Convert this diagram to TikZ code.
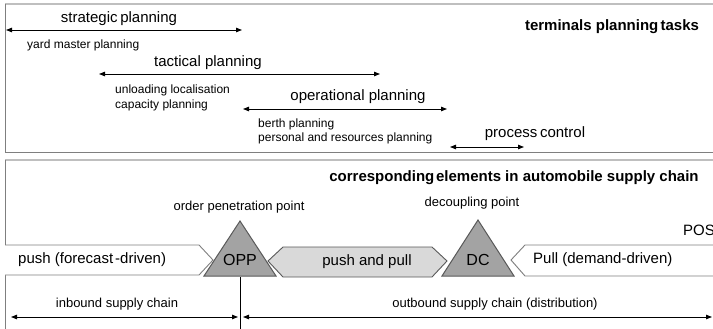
\documentclass[tikz,border=0pt]{standalone}
\usepackage{fontspec}
\setmainfont{Liberation Sans}
\usetikzlibrary{arrows.meta}
\definecolor{frameLight}{HTML}{BFBFBF}
\definecolor{frameDark}{HTML}{7F7F7F}
\definecolor{edgeDark}{HTML}{595959}
\definecolor{triFill}{HTML}{A3A3A3}
\definecolor{ppFill}{HTML}{D9D9D9}
\tikzset{
  txt/.style={inner sep=0pt, font=\fontsize{#1}{#1}\selectfont},
  txt/.default=12,
  bold/.style={inner sep=0pt, font=\fontsize{15}{15}\selectfont\bfseries},
  span/.style={line width=0.9pt, {Triangle[length=6pt,width=4.5pt]}-{Triangle[length=6pt,width=4.5pt]}},
  tri/.style={draw=edgeDark, fill=triFill, line width=1pt},
  flowbox/.style={draw=frameDark, line width=0.9pt},
}
\begin{document}
\begin{tikzpicture}[x=1pt,y=-1pt]
\useasboundingbox (0,0) rectangle (713,329);
\clip (0,0) rectangle (713,329);
% ---------- top frame ----------
\draw[frameLight, line width=2pt] (5,4) -- (713,4);
\draw[frameDark, line width=1pt] (5,4) -- (5,152) -- (713,152);
\node[bold] (ttitle) at (612,27) {terminals planning\kern-2pt\ tasks};
% strategic
\node[txt=15] (strat) at (119,19) {strategic\kern-1.5pt\ planning};
\coordinate (sA) at (6,30); \coordinate (sB) at (242,30);
\draw[span] (sA) -- (sB);
\node[txt, anchor=west] (yard) at (27,45) {yard master planning};
% tactical
\node[txt=15] (tact) at (208,63) {tactical planning};
\coordinate (tA) at (99,74); \coordinate (tB) at (380,74);
\draw[span] (tA) -- (tB);
\node[txt, anchor=west] (unl) at (115,90) {unloading localisation};
\node[txt, anchor=west] (cap) at (115,105) {capacity planning};
% operational
\node[txt=15] (oper) at (358,97) {operational planning};
\coordinate (oA) at (243,109); \coordinate (oB) at (447,109);
\draw[span] (oA) -- (oB);
\node[txt, anchor=west] (berth) at (258,124) {berth planning};
\node[txt, anchor=west] (pers) at (258,138) {personal and resources planning};
% process control
\node[txt=15] (proc) at (535,134) {process\kern-1.5pt\ control};
\coordinate (pA) at (450,147); \coordinate (pB) at (524,147);
\draw[span] (pA) -- (pB);
% ---------- bottom frame ----------
\draw[frameLight, line width=2pt] (5,160) -- (713,160);
\draw[frameDark, line width=1pt] (5,160) -- (5,329);
\node[bold] (btitle) at (514,178) {corresponding\kern-2.5pt\ elements in automobile supply chain};
% flow shapes
\draw[flowbox, fill=white] (5,245) -- (199,245) -- (213,260) -- (199,275) -- (5,275);
\node[txt=15, anchor=west] (push) at (18,260) {push (forecast\kern2pt-driven)};
\draw[flowbox, draw=edgeDark, fill=ppFill] (268,261) -- (283,247) -- (432,247) -- (447,261) -- (432,277) -- (283,277) -- cycle;
\node[txt=15] (pp) at (367,262) {push and pull};
\draw[flowbox, fill=white] (720,245) -- (525,245) -- (511,260) -- (525,276) -- (720,276);
\node[txt=15, anchor=west] (pull) at (533,260) {Pull (demand-driven)};
\node[txt=15, anchor=west] (pos) at (683,230) {POS};
% triangles
\draw[tri] (240,221) -- (276,276) -- (204,276) -- cycle;
\node[txt=16] (opp) at (240,260) {OPP};
\node[txt=13] (oppl) at (239,207) {order penetration point};
\draw[tri] (478,220) -- (514,276) -- (442,276) -- cycle;
\node[txt=16] (dc) at (478,260) {DC};
\node[txt=13] (dcl) at (472,203) {decoupling point};
% divider and supply chain spans
\coordinate (vTop) at (240,277); \coordinate (vBot) at (240,329);
\draw[line width=0.9pt] (vTop) -- (vBot);
\coordinate (iA) at (11,317); \coordinate (iB) at (238,317);
\draw[span] (iA) -- (iB);
\node[txt=13] (inb) at (117,304) {inbound supply chain};
\coordinate (uA) at (243,317); \coordinate (uB) at (712,317);
\draw[span] (uA) -- (uB);
\node[txt=13] (outb) at (495,304) {outbound supply chain (distribution)};
\end{tikzpicture}
\end{document}
